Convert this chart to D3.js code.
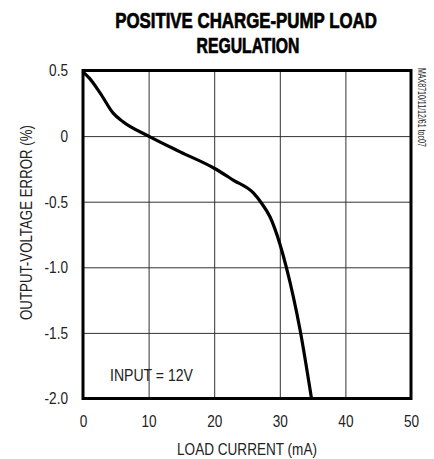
<!DOCTYPE html>
<html>
<head>
<meta charset="utf-8">
<script src="https://cdn.jsdelivr.net/npm/d3@7"></script>
<style>
  body { margin: 0; background: #fff; }
  svg text { font-family: "Liberation Sans", Arial, sans-serif; fill: #222; }
  .title { font-weight: bold; font-size: 22px; fill: #000; stroke: #000; stroke-width: 0.7px; }
</style>
</head>
<body>
<svg id="chart" width="434" height="459"></svg>
<script>
// load current (mA) vs output-voltage error (%)
const loadCurrent = [0, 1, 2.6, 4.6, 6.1, 10, 14.8, 20, 22.9, 26, 27.2, 28.5, 30, 31, 33.1, 34.8];
const voltageError = [0.49, 0.44, 0.33, 0.175, 0.11, 0, -0.12, -0.245, -0.335, -0.435, -0.51, -0.615, -0.82, -1.0, -1.48, -1.99];
const xTicks = [0, 10, 20, 30, 40, 50];
const yTicks = [0.5, 0, -0.5, -1.0, -1.5, -2.0];
const yTickLabels = ['0.5', '0', '-0.5', '-1.0', '-1.5', '-2.0'];

const margin = { top: 70.5, right: 23, bottom: 60.5, left: 83 };
const width = 434 - margin.left - margin.right;
const height = 459 - margin.top - margin.bottom;

const svg = d3.select('#chart');

// squeeze text horizontally to look like a narrow font (no condensed face installed)
function narrow(sel, k) {
  sel.each(function () {
    const L = this.getComputedTextLength() * k;
    d3.select(this).attr('textLength', L).attr('lengthAdjust', 'spacingAndGlyphs');
  });
}

// place a text at (x, y) with rotation, squeezed to a given length
function label(txt, x, y, size, len, opts = {}) {
  const t = svg.append('text')
    .attr('text-anchor', opts.anchor || 'start')
    .style('font-size', size + 'px')
    .attr('class', opts.cls || null)
    .text(txt);
  const k = len / t.node().getComputedTextLength();
  t.attr('transform', `translate(${x},${y}) rotate(${opts.rot || 0}) scale(${k},1)`);
  return t;
}

label('POSITIVE CHARGE-PUMP LOAD', 246, 28, 22, 262, { anchor: 'middle', cls: 'title' });
label('REGULATION', 248, 53, 22, 103, { anchor: 'middle', cls: 'title' });

const g = svg.append('g').attr('transform', `translate(${margin.left},${margin.top})`);

const x = d3.scaleLinear().domain([0, 50]).range([0, width]);
const y = d3.scaleLinear().domain([-2, 0.5]).range([height, 0]);

// grid
g.append('g')
  .call(d3.axisBottom(x).tickValues(xTicks).tickSize(height).tickFormat(''))
  .call(a => a.select('.domain').remove())
  .call(a => a.selectAll('line').attr('stroke', '#333').attr('stroke-width', 1));
g.append('g')
  .call(d3.axisLeft(y).tickValues(yTicks).tickSize(-width).tickFormat(''))
  .call(a => a.select('.domain').remove())
  .call(a => a.selectAll('line').attr('stroke', '#333').attr('stroke-width', 1));

// tick labels
g.append('g').attr('transform', `translate(0,${height})`)
  .call(d3.axisBottom(x).tickValues(xTicks).tickSize(0).tickPadding(16))
  .call(a => a.select('.domain').remove())
  .call(a => a.selectAll('text').style('font-size', '17px').attr('fill', '#222').call(narrow, 0.8));
g.append('g')
  .call(d3.axisLeft(y).tickValues(yTicks).tickSize(0).tickPadding(15)
    .tickFormat((d, i) => yTickLabels[i]))
  .call(a => a.select('.domain').remove())
  .call(a => a.selectAll('text').style('font-size', '17px').attr('fill', '#222').call(narrow, 0.8));

// frame
g.append('rect').attr('width', width).attr('height', height)
  .attr('fill', 'none').attr('stroke', '#000').attr('stroke-width', 3);

// curve
const line = d3.line()
  .x((d, i) => x(loadCurrent[i]))
  .y(d => y(d))
  .curve(d3.curveMonotoneX);
g.append('path').datum(voltageError)
  .attr('d', line).attr('fill', 'none').attr('stroke', '#000').attr('stroke-width', 3.2);

// labels
label('INPUT = 12V', 110, 381, 17, 83);
label('LOAD CURRENT (mA)', 247, 455, 17, 140, { anchor: 'middle' });
label('OUTPUT-VOLTAGE ERROR (%)', 32, 222.5, 17, 195, { anchor: 'middle', rot: -90 });
label('MAX8710/11/12/61 toc07', 418, 68, 11, 79, { rot: 90 });
</script>
</body>
</html>
